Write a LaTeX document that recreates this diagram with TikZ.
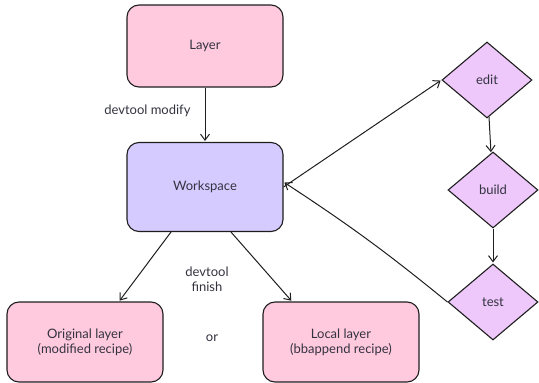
\documentclass[tikz,border=0pt]{standalone}
\usepackage{fontspec}
\setmainfont{Lato}
\usetikzlibrary{positioning,shapes.geometric,arrows.meta}
\definecolor{ink}{HTML}{1E1E1E}
\definecolor{txt}{HTML}{333340}
\definecolor{layerpink}{HTML}{FFC9DE}
\definecolor{wsviolet}{HTML}{D5CBFF}
\definecolor{loopgrape}{HTML}{EEC8FA}
\tikzset{
  layerbox/.style={draw=ink,fill=layerpink,line width=1.1pt,rounded corners=12pt,
    minimum width=156pt,minimum height=80pt,align=center,text=txt},
  wsbox/.style={layerbox,fill=wsviolet,minimum height=89pt},
  loopstep/.style={diamond,draw=ink,fill=loopgrape,line width=1.1pt,
    minimum width=90pt,minimum height=76pt,inner sep=0pt,text=txt},
  lbl/.style={text=txt,align=center}
}

\begin{document}
\begin{tikzpicture}[x=1pt,y=-1pt,shorten >=1pt,on grid,auto,
    font=\fontsize{13}{15}\selectfont,
    >={Straight Barb[length=6pt,width=9pt]},line width=1pt,
    every edge/.append style={draw=ink}]
                \useasboundingbox (0,0) rectangle (539,383);
                \node[layerbox,minimum height=82pt](layer) at (205,46) {Layer};
                \node[wsbox](ws) [below=141pt of layer]{Workspace};
                \node[layerbox](orig) [below left=155pt and 120pt of ws]{Original layer\\(modified recipe)};
                \node[layerbox](local) [below right=155pt and 136pt of ws]{Local layer\\(bbappend recipe)};
                \node[loopstep](edit) at (487,80) {edit};
                \node[loopstep](build) [below=110pt of edit,xshift=6pt]{build};
                \node[loopstep](test) [below=112pt of build]{test};
                \node[lbl](finish) at (207,279) {devtool\\finish};
                \node[lbl](or) at (212,338) {or};
                \path[->]
                (layer) edge node[swap,pos=0.42,inner sep=14pt,text=txt]{devtool modify}(ws)
                (ws.east) edge (edit.west)
                (edit) edge (build)
                (build) edge (test)
                (test.west) edge[bend right=3] ([yshift=5pt]ws.east)
                ([xshift=-34pt]ws.south) edge ([xshift=34pt]orig.north)
                ([xshift=26pt]ws.south) edge ([xshift=-49pt]local.north);
            \end{tikzpicture}
\end{document}
